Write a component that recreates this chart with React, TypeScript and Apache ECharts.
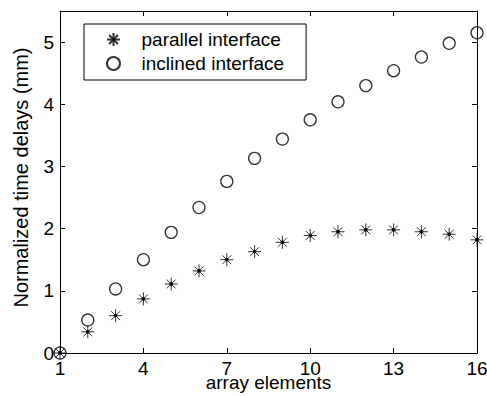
import React, { useEffect, useRef } from "react";
import * as echarts from "echarts";

const elements = [1, 2, 3, 4, 5, 6, 7, 8, 9, 10, 11, 12, 13, 14, 15, 16];
const parallelDelays = [0, 0.34, 0.6, 0.87, 1.11, 1.32, 1.5, 1.63, 1.78, 1.89, 1.95, 1.98, 1.98, 1.95, 1.91, 1.82];
const inclinedDelays = [0, 0.53, 1.03, 1.5, 1.94, 2.34, 2.76, 3.13, 3.44, 3.75, 4.04, 4.3, 4.54, 4.76, 4.98, 5.15];
const xTicks = [1, 4, 7, 10, 13, 16];
const yTicks = [0, 1, 2, 3, 4, 5];
const seriesNames = ["parallel interface", "inclined interface"];

const FONT = "Liberation Sans, Arial, sans-serif";
const ASTERISK =
  "path://M5,0L5,10M0,5L10,5M1.6,1.6L8.4,8.4M1.6,8.4L8.4,1.6M5,3.9A1.1,1.1 0 1 1 5,6.1A1.1,1.1 0 1 1 5,3.9Z";

export default function App() {
  const ref = useRef<HTMLDivElement>(null);
  useEffect(() => {
    const chart = echarts.init(ref.current!, null, { renderer: "svg" });
    const axisCommon = {
      axisLine: { show: true, onZero: false, lineStyle: { color: "#000", width: 1 } },
      splitLine: { show: false },
    };
    const xAxisBase = {
      type: "value" as const,
      min: 1,
      max: 16,
      ...axisCommon,
    };
    const yAxisBase = {
      type: "value" as const,
      min: 0,
      max: 5.5,
      ...axisCommon,
    };
    chart.setOption({
      animation: false,
      backgroundColor: "#fff",
      textStyle: { fontFamily: FONT },
      grid: { left: 60, top: 11, right: 10, bottom: 43, containLabel: false, outerBoundsMode: "none" },
      legend: {
        left: 84,
        top: 24,
        orient: "vertical",
        borderColor: "#000",
        borderWidth: 1,
        padding: [6, 22, 7, 22],
        itemWidth: 46,
        itemHeight: 13,
        itemGap: 5,
        data: seriesNames,
        textStyle: { fontFamily: FONT, fontSize: 19, color: "#000", lineHeight: 18 },
      },
      xAxis: [
        {
          ...xAxisBase,
          position: "bottom",
          name: "array elements",
          nameLocation: "middle",
          nameGap: 22,
          nameMoveOverlap: false,
          nameTextStyle: { fontFamily: FONT, fontSize: 19, color: "#000", lineHeight: 14 },
          axisTick: { show: true, inside: true, length: 5, customValues: xTicks, lineStyle: { color: "#000" } },
          axisLabel: { show: true, customValues: xTicks, margin: 8, fontSize: 19, lineHeight: 14, color: "#000", fontFamily: FONT },
        },
        {
          ...xAxisBase,
          position: "top",
          axisTick: { show: true, inside: true, length: 5, customValues: xTicks, lineStyle: { color: "#000" } },
          axisLabel: { show: false },
        },
      ],
      yAxis: [
        {
          ...yAxisBase,
          position: "left",
          name: "Normalized time delays (mm)",
          nameLocation: "middle",
          nameGap: 29,
          nameMoveOverlap: false,
          nameTextStyle: { fontFamily: FONT, fontSize: 20, color: "#000", padding: [0, 0, 0, 9] },
          axisTick: { show: true, inside: true, length: 5, customValues: yTicks, lineStyle: { color: "#000" } },
          axisLabel: { show: true, customValues: yTicks, margin: 6, fontSize: 19, color: "#000", fontFamily: FONT },
        },
        {
          ...yAxisBase,
          position: "right",
          axisTick: { show: true, inside: true, length: 5, customValues: yTicks, lineStyle: { color: "#000" } },
          axisLabel: { show: false },
        },
      ],
      series: [
        {
          name: seriesNames[0],
          type: "scatter",
          clip: false,
          symbol: ASTERISK,
          symbolSize: 13,
          symbolKeepAspect: true,
          itemStyle: { color: "#000", borderColor: "#000", borderWidth: 1 },
          data: elements.map((x, i) => [x, parallelDelays[i]]),
          z: 3,
        },
        {
          name: seriesNames[1],
          type: "scatter",
          clip: false,
          symbol: "circle",
          symbolSize: 12,
          itemStyle: { color: "transparent", borderColor: "#000", borderWidth: 1.3 },
          data: elements.map((x, i) => [x, inclinedDelays[i]]),
          z: 2,
        },
      ],
    });
    return () => chart.dispose();
  }, []);
  return (
    <div
      ref={ref}
      style={{ position: "fixed", left: 0, top: 0, width: 487, height: 396, background: "#fff" }}
    />
  );
}
